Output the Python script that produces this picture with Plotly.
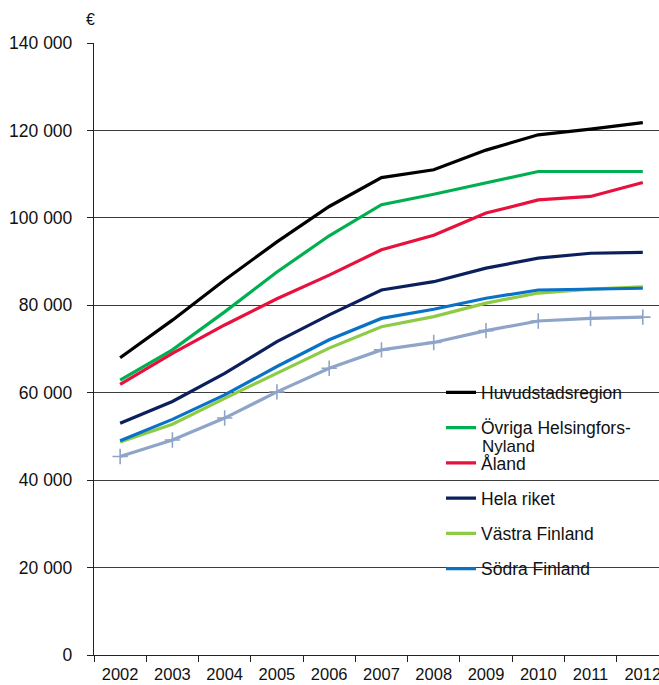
import plotly.graph_objects as go

years = ["2002", "2003", "2004", "2005", "2006", "2007", "2008", "2009", "2010", "2011", "2012"]

huvudstadsregion = [68000, 76600, 85800, 94500, 102600, 109200, 111000, 115500, 119000, 120300, 121800]
ovriga_nyland = [62900, 69800, 78500, 87600, 95900, 103000, 105400, 108000, 110600, 110600, 110600]
aland = [61900, 69000, 75500, 81500, 86900, 92700, 96000, 101100, 104100, 104900, 108100]
hela_riket = [53000, 58000, 64400, 71700, 77800, 83500, 85400, 88500, 90800, 91900, 92100]
vastra_finland = [48700, 52800, 58700, 64500, 70200, 75100, 77400, 80500, 82800, 83700, 84200]
sodra_finland = [49000, 53900, 59500, 66000, 72100, 77000, 79100, 81600, 83500, 83700, 83900]
norra_ostra = [45400, 49200, 54200, 60200, 65600, 69800, 71500, 74200, 76400, 77000, 77300]

series = [
    ("Huvudstadsregion", huvudstadsregion, "#000000"),
    ("Övriga Helsingfors-", ovriga_nyland, "#00B050"),
    ("Åland", aland, "#E8103C"),
    ("Hela riket", hela_riket, "#0B1F5C"),
    ("Västra Finland", vastra_finland, "#8DCB45"),
    ("Södra Finland", sodra_finland, "#0A72C6"),
]

FONT = "Liberation Sans, Arial, sans-serif"

fig = go.Figure()
for i, (name, vals, color) in enumerate(series):
    fig.add_trace(go.Scatter(
        x=years, y=vals, name=name, mode="lines",
        line=dict(color=color, width=3.2),
        legendgroup=f"g{i}",
    ))

fig.add_trace(go.Scatter(
    x=years, y=norra_ostra, name="Norra och Östra Finland",
    mode="lines+markers", showlegend=False,
    line=dict(color="#8FA4C9", width=3.2),
    marker=dict(symbol="cross-thin", size=11,
                line=dict(color="#8FA4C9", width=1.6)),
))

W, H = 659, 685
L, R, T, B = 94, 0, 43, 30
pw, ph = W - L - R, H - T - B

def px_x(x):
    return (x - L) / pw

def px_y(y):
    return (H - B - y) / ph

# white panel behind the legend
fig.add_shape(type="rect", xref="paper", yref="paper",
              x0=px_x(425), x1=px_x(652), y0=px_y(585), y1=px_y(378),
              fillcolor="white", line=dict(width=0), layer="between")

fig.add_annotation(text="€", xref="paper", yref="paper",
                   x=px_x(90), y=px_y(20), xanchor="center", yanchor="middle",
                   showarrow=False, font=dict(family=FONT, size=16, color="#111"))
fig.add_annotation(text="Nyland", xref="paper", yref="paper",
                   x=px_x(480), y=px_y(446), xanchor="left", yanchor="middle",
                   showarrow=False, font=dict(family=FONT, size=17, color="#111"))

fig.update_layout(
    width=W, height=H,
    margin=dict(l=L, r=R, t=T, b=B),
    paper_bgcolor="white", plot_bgcolor="white",
    separators=", ",
    font=dict(family=FONT, color="#111"),
    showlegend=True,
    legend=dict(
        x=px_x(441), y=px_y(374.5), xanchor="left", yanchor="top",
        bgcolor="rgba(0,0,0,0)", borderwidth=0,
        font=dict(family=FONT, size=17.5, color="#111"),
        traceorder="grouped", tracegroupgap=9.5,
    ),
    xaxis=dict(
        type="category", range=[-0.5, 10.31],
        showgrid=False, showline=True, linecolor="#222", linewidth=1.3,
        ticks="outside", tickson="boundaries", ticklen=6,
        tickcolor="#222", tickwidth=1.3,
        tickfont=dict(family=FONT, size=16.5, color="#111"),
        ticklabelstandoff=4,
        automargin=False,
        fixedrange=True,
    ),
    yaxis=dict(
        range=[0, 140000], tickvals=[0, 20000, 40000, 60000, 80000, 100000, 120000, 140000],
        tickformat=",d",
        showgrid=True, gridcolor="#3c3c3c", gridwidth=1.2,
        showline=True, linecolor="#222", linewidth=1.3,
        ticks="outside", ticklen=6, tickcolor="#222", tickwidth=1.3,
        tickfont=dict(family=FONT, size=17.5, color="#111"),
        ticklabelstandoff=11,
        automargin=False,
        zeroline=False,
    ),
)

fig.write_html("out.html")
